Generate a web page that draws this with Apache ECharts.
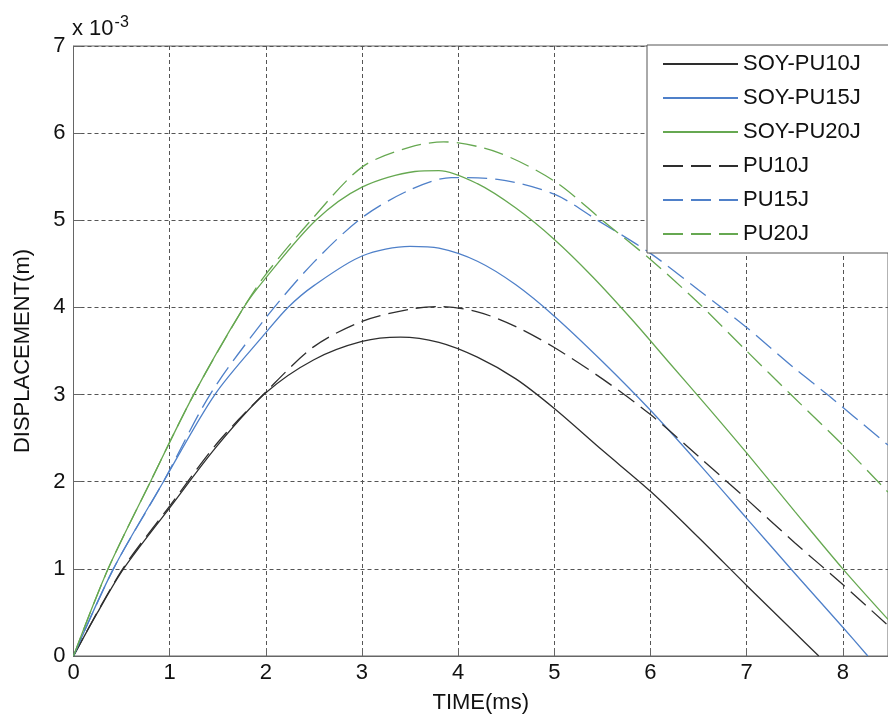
<!DOCTYPE html>
<html>
<head>
    <meta charset="utf-8">
    <title>DISPLACEMENT - TIME</title>
    <script src="https://cdn.jsdelivr.net/npm/echarts@6/dist/echarts.min.js"></script>
    <style>
        html, body { margin: 0; padding: 0; background: #fff; }
    </style>
</head>
<body>
    <div id="main" style="width:888px; height:719px;"></div>
    <script>
        // data: time in ms, displacement in 1e-3 m
        var soy10Time = [0, 0.25, 0.52, 1, 1.5, 2, 2.5, 3, 3.4, 3.8, 4.2, 4.6, 5, 5.5, 6, 6.5, 7, 7.5, 7.75]
        var soy10Disp = [0, 0.5, 1.0, 1.7, 2.42, 3.02, 3.4, 3.61, 3.66, 3.6, 3.43, 3.18, 2.84, 2.36, 1.89, 1.36, 0.81, 0.27, 0]

        var soy15Time = [0, 0.415, 0.935, 1.47, 2, 2.23, 2.5, 3, 3.5, 3.8, 4.2, 4.6, 5, 5.5, 6, 6.5, 7, 7.5, 8, 8.26]
        var soy15Disp = [0, 1.0, 2.0, 3.0, 3.71, 4.0, 4.25, 4.59, 4.7, 4.68, 4.53, 4.26, 3.9, 3.38, 2.82, 2.21, 1.58, 0.95, 0.33, 0]

        var soy20Time = [0, 0.36, 0.8, 1.25, 1.77, 2, 2.52, 3, 3.55, 3.8, 4.2, 4.6, 5, 5.4, 5.8, 6.2, 6.6, 7, 7.5, 8, 8.47]
        var soy20Disp = [0, 1.0, 2.0, 3.0, 4.0, 4.34, 5.0, 5.38, 5.56, 5.57, 5.42, 5.14, 4.78, 4.35, 3.87, 3.36, 2.85, 2.33, 1.66, 1.0, 0.42]

        var pu10Time = [0, 0.5, 1, 1.5, 2, 2.5, 3, 3.5, 3.8, 4.2, 4.6, 5, 5.5, 6, 6.5, 7, 7.5, 8, 8.47]
        var pu10Disp = [0, 0.98, 1.72, 2.45, 3.03, 3.55, 3.84, 3.98, 4.01, 3.95, 3.78, 3.54, 3.18, 2.77, 2.29, 1.8, 1.3, 0.82, 0.35]

        var pu15Time = [0, 0.415, 0.935, 1.42, 2, 2.5, 3, 3.5, 3.93, 4.41, 5, 5.45, 6, 6.5, 7, 7.5, 7.84, 8.47]
        var pu15Disp = [0, 1.0, 2.0, 3.0, 3.88, 4.52, 5.03, 5.35, 5.49, 5.47, 5.3, 5.0, 4.62, 4.2, 3.77, 3.3, 3.0, 2.42]

        var pu20Time = [0, 0.36, 0.8, 1.25, 1.77, 2, 2.47, 3, 3.5, 3.85, 4.41, 5, 5.5, 6, 6.5, 7, 7.46, 8, 8.47]
        var pu20Disp = [0, 1.0, 2.0, 3.0, 4.0, 4.38, 5.0, 5.61, 5.84, 5.9, 5.78, 5.45, 5.0, 4.55, 4.05, 3.5, 3.0, 2.42, 1.88]

        var seriesNames = ['SOY-PU10J', 'SOY-PU15J', 'SOY-PU20J', 'PU10J', 'PU15J', 'PU20J']
        var xTicks = [0, 1, 2, 3, 4, 5, 6, 7, 8]
        var yTicks = [0, 1, 2, 3, 4, 5, 6, 7]

        var black = '#2e2e2e'
        var blue = '#4f80c9'
        var green = '#66a851'
        var font = 'Liberation Sans, Arial, sans-serif'

        var zip = function(xs, ys) {
            var out = []
            for (var i = 0; i < xs.length; i++) {
                out.push([xs[i], ys[i]])
            }
            return out
        }

        var makeLine = function(name, xs, ys, color, dashed) {
            return {
                name: name,
                type: 'line',
                data: zip(xs, ys),
                smooth: 0.3,
                showSymbol: false,
                symbol: 'none',
                lineStyle: {
                    color: color,
                    width: 1.3,
                    type: dashed ? [20, 8] : 'solid'
                },
                itemStyle: { color: color },
                emphasis: { disabled: true }
            }
        }

        var element = document.querySelector('#main')
        var myChart = echarts.init(element, null, { renderer: 'canvas' })

        var option = {
            animation: false,
            backgroundColor: '#fff',
            textStyle: { fontFamily: font },
            grid: {
                left: 73.5,
                right: -2,
                top: 46,
                bottom: 62,
                show: true,
                borderColor: '#666',
                borderWidth: 1
            },
            legend: {
                data: seriesNames,
                orient: 'vertical',
                left: 647,
                top: 45,
                padding: [8, 30, 8, 15],
                itemGap: 12,
                itemWidth: 75,
                itemHeight: 22,
                backgroundColor: '#fff',
                borderColor: '#555',
                borderWidth: 1,
                borderRadius: 0,
                selectedMode: false,
                itemStyle: { opacity: 0 },
                textStyle: {
                    fontFamily: font,
                    fontSize: 22,
                    color: '#111',
                    lineHeight: 22
                }
            },
            xAxis: {
                type: 'value',
                min: 0,
                max: 8.47,
                interval: 1,
                name: 'TIME(ms)',
                nameLocation: 'middle',
                nameGap: 36,
                nameTextStyle: { fontFamily: font, fontSize: 22, color: '#111' },
                axisLine: { show: true, lineStyle: { color: '#666', width: 1 } },
                axisTick: { show: true, inside: true, length: 8, lineStyle: { color: '#666' } },
                axisLabel: {
                    fontFamily: font,
                    fontSize: 22,
                    color: '#111',
                    margin: 6,
                    showMaxLabel: false,
                    formatter: function(v) {
                        return xTicks.indexOf(v) >= 0 ? String(v) : ''
                    }
                },
                splitLine: { show: true, lineStyle: { color: '#555', type: [4, 3], width: 1 } }
            },
            yAxis: {
                type: 'value',
                min: 0,
                max: 7,
                interval: 1,
                name: 'DISPLACEMENT(m)',
                nameLocation: 'middle',
                nameGap: 40,
                nameRotate: 90,
                nameTextStyle: { fontFamily: font, fontSize: 22, color: '#111' },
                axisLine: { show: true, lineStyle: { color: '#666', width: 1 } },
                axisTick: { show: true, inside: true, length: 8, lineStyle: { color: '#666' } },
                axisLabel: {
                    fontFamily: font,
                    fontSize: 22,
                    color: '#111',
                    margin: 8,
                    formatter: function(v) {
                        return yTicks.indexOf(v) >= 0 ? String(v) : ''
                    }
                },
                splitLine: { show: true, lineStyle: { color: '#555', type: [4, 3], width: 1 } }
            },
            graphic: [
                {
                    type: 'text',
                    left: 72,
                    top: 15,
                    style: {
                        text: 'x 10{sup|-3}',
                        fill: '#111',
                        font: '22px ' + font,
                        rich: {
                            sup: {
                                fontSize: 16,
                                fontFamily: font,
                                fill: '#111',
                                verticalAlign: 'top',
                                padding: [0, 0, 12, 1]
                            }
                        }
                    }
                }
            ],
            series: [
                makeLine(seriesNames[0], soy10Time, soy10Disp, black, false),
                makeLine(seriesNames[1], soy15Time, soy15Disp, blue, false),
                makeLine(seriesNames[2], soy20Time, soy20Disp, green, false),
                makeLine(seriesNames[3], pu10Time, pu10Disp, black, true),
                makeLine(seriesNames[4], pu15Time, pu15Disp, blue, true),
                makeLine(seriesNames[5], pu20Time, pu20Disp, green, true)
            ]
        }

        myChart.setOption(option)
    </script>
</body>
</html>
